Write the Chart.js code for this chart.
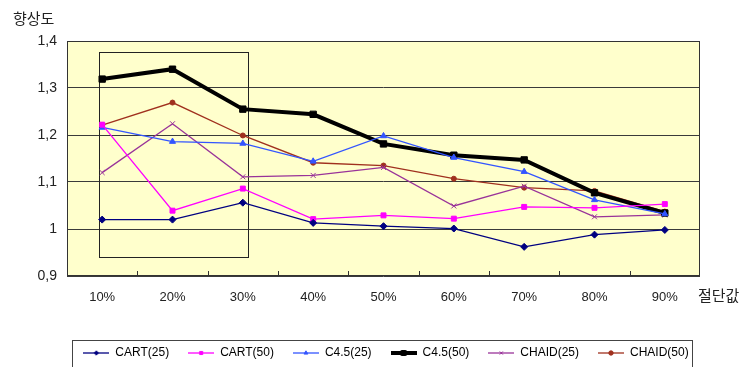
<!DOCTYPE html>
<html><head><meta charset="utf-8">
<script src="https://cdn.jsdelivr.net/npm/chart.js@4.4.0/dist/chart.umd.min.js"></script>
<style>html,body{margin:0;padding:0;background:#fff}#c{display:block}</style>
</head><body>
<canvas id="c" width="745" height="367"></canvas>
<script>
const categories = ['10%','20%','30%','40%','50%','60%','70%','80%','90%'];
const cart25  = [1.020,1.020,1.056,1.013,1.006,1.001,0.962,0.988,0.998];
const cart50  = [1.222,1.039,1.086,1.021,1.029,1.022,1.047,1.045,1.053];
const c45_25  = [1.216,1.186,1.182,1.144,1.198,1.152,1.122,1.062,1.032];
const c45_50  = [1.319,1.340,1.255,1.244,1.181,1.157,1.147,1.077,1.034];
const chaid25 = [1.120,1.224,1.111,1.114,1.131,1.049,1.091,1.026,1.030];
const chaid50 = [1.221,1.269,1.199,1.141,1.135,1.107,1.088,1.081,1.037];
const seriesNames = ['CART(25)','CART(50)','C4.5(25)','C4.5(50)','CHAID(25)','CHAID(50)'];
const yTickValues = [0.9,1.0,1.1,1.2,1.3,1.4];
const yTickLabels = ['0,9','1','1,1','1,2','1,3','1,4'];
const highlightX = [-0.04, 2.08];   // category index range of the highlight box
const highlightY = [0.9405, 1.3765]; // value range of the highlight box
const yTitle = '향상도';
const xTitle = '절단값';

const styles = [
  {color:'#000080', point:'rectRot',  r:3.5, w:1.3},
  {color:'#FF00FF', point:'rect',     r:3.5, w:1.3},
  {color:'#3355FF', point:'triangle', r:3.5, w:1.3},
  {color:'#000000', point:'rect',     r:4.5, w:4},
  {color:'#993399', point:'crossRot', r:3.5, w:1.3},
  {color:'#A0301E', point:'circle',   r:2.5, w:1.3}
];
const values = [cart25, cart50, c45_25, c45_50, chaid25, chaid50];

function legendImage(st){
  const cv = document.createElement('canvas');
  cv.width = 26; cv.height = 10;
  const c = cv.getContext('2d');
  c.strokeStyle = st.color; c.fillStyle = st.color;
  c.lineWidth = st.w >= 3 ? 4 : 1.3;
  c.beginPath(); c.moveTo(0,5); c.lineTo(26,5); c.stroke();
  c.lineWidth = 1;
  Chart.helpers.drawPoint(c, {pointStyle: st.point, radius: st.w>=3?3.5:2.2, borderWidth:1}, 13, 5);
  return cv;
}
const legendImgs = styles.map(legendImage);

const decor = {
  id:'decor',
  beforeDraw(chart){
    const {ctx, chartArea:a} = chart;
    ctx.save(); ctx.fillStyle = '#FFFFCC';
    ctx.fillRect(a.left, a.top, a.right-a.left, a.bottom-a.top); ctx.restore();
  },
  beforeDatasetsDraw(chart){
    const {ctx, chartArea:a} = chart;
    const x = chart.scales.x, y = chart.scales.y;
    ctx.save();
    ctx.strokeStyle = '#333'; ctx.lineWidth = 1;
    ctx.strokeRect(Math.round(a.left)+0.5, Math.round(a.top)+0.5, Math.round(a.right-a.left)-1, Math.round(a.bottom-a.top)-1);
    for (let i=1;i<categories.length;i++){
      const px = Math.round(x.getPixelForValue(i-0.5))+0.5;
      ctx.beginPath(); ctx.moveTo(px, a.bottom); ctx.lineTo(px, a.bottom-5); ctx.stroke();
    }
    const x0 = Math.round(x.getPixelForValue(highlightX[0]))+0.5, x1 = Math.round(x.getPixelForValue(highlightX[1]))+0.5;
    const y0 = Math.round(y.getPixelForValue(highlightY[1]))+0.5, y1 = Math.round(y.getPixelForValue(highlightY[0]))+0.5;
    ctx.strokeStyle = '#222';
    ctx.strokeRect(x0, y0, x1-x0, y1-y0);
    ctx.restore();
  },
  afterDraw(chart){
    const {ctx, chartArea:a} = chart;
    ctx.save();
    ctx.fillStyle = '#222';
    ctx.font = '15px "Noto Sans CJK KR"';
    ctx.textBaseline = 'middle'; ctx.textAlign = 'left';
    ctx.fillText(yTitle, 13, 18);
    ctx.fillText(xTitle, a.right - 2, a.bottom + 19);
    const boxes = chart.legend.legendHitBoxes;
    if (boxes && boxes.length){
      let l = Infinity, r = -Infinity, t = Infinity;
      boxes.forEach(b=>{ l=Math.min(l,b.left); r=Math.max(r,b.left+b.width); t=Math.min(t,b.top); });
      ctx.strokeStyle = '#444'; ctx.lineWidth = 1;
      ctx.strokeRect(Math.round(l-11)+0.5, Math.round(t-7)+0.5, Math.round(r-l+15), 60);
    }
    ctx.restore();
  }
};

new Chart(document.getElementById('c'), {
  type:'line',
  data:{
    labels: categories,
    datasets: values.map((v,i)=>({
      label: seriesNames[i], data: v,
      borderColor: styles[i].color, backgroundColor: styles[i].color,
      borderWidth: styles[i].w, pointStyle: styles[i].point,
      pointRadius: styles[i].r, pointBorderWidth: 1,
      pointBackgroundColor: styles[i].color, pointBorderColor: styles[i].color,
      tension: 0, fill: false
    }))
  },
  options:{
    responsive:false, animation:false,
    layout:{padding:{top:41, right:0, left:27, bottom:-2}},
    plugins:{
      tooltip:{enabled:false},
      legend:{
        position:'bottom',
        labels:{
          usePointStyle:true, pointStyleWidth:26, padding:19,
          font:{family:'Liberation Sans', size:12}, color:'#000',
          generateLabels(chart){
            return chart.data.datasets.map((ds,i)=>({
              text: ds.label, pointStyle: legendImgs[i], datasetIndex:i,
              hidden:false, lineWidth:0, fillStyle:'rgba(0,0,0,0)', strokeStyle:'rgba(0,0,0,0)', fontColor:'#000'
            }));
          }
        }
      }
    },
    scales:{
      x:{
        offset:true,
        grid:{display:false, drawTicks:false},
        border:{display:false},
        ticks:{padding:14, color:'#222', font:{family:'Liberation Sans', size:13}, maxRotation:0},
        afterFit(s){ s.height = 52; }
      },
      y:{
        min:0.9, max:1.4,
        grid:{color:'#3a3a3a', lineWidth:1, drawTicks:false},
        border:{display:false},
        afterBuildTicks(s){ s.ticks = yTickValues.map(v=>({value:v})); },
        ticks:{padding:10, color:'#222', font:{family:'Liberation Sans', size:14},
          callback(v){ const i = yTickValues.findIndex(t=>Math.abs(t-v)<1e-6); return i>=0 ? yTickLabels[i] : ''; }},
        afterFit(s){ s.width = 40; }
      },
      yRight:{
        position:'right', min:0.9, max:1.4,
        grid:{display:false, drawTicks:false},
        border:{display:false},
        ticks:{display:false},
        afterFit(s){ s.width = 45; }
      }
    }
  },
  plugins:[decor]
});
</script>
</body></html>
